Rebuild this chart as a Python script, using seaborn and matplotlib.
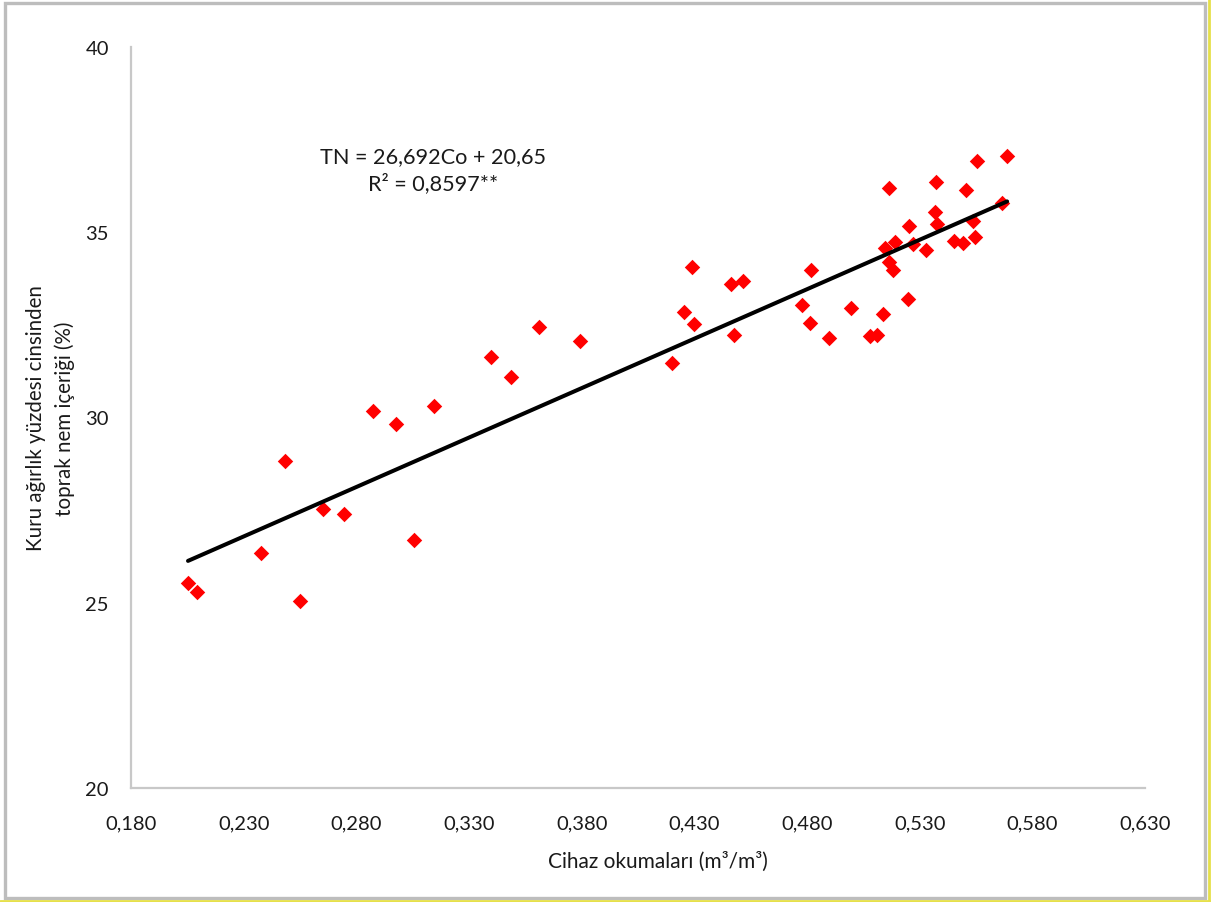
import matplotlib
matplotlib.use("Agg")
import matplotlib.pyplot as plt
from matplotlib.ticker import FuncFormatter, FixedLocator
from matplotlib.patches import Rectangle
from matplotlib.lines import Line2D
import seaborn as sns
import numpy as np

# ---- data ----
cihaz = [0.2053, 0.2093, 0.2377, 0.2483, 0.2550, 0.2652, 0.2745, 0.2874, 0.2976, 0.3056,
         0.3145, 0.3398, 0.3486, 0.3611, 0.3793, 0.4201, 0.4254, 0.4290, 0.4299, 0.4463,
         0.4516, 0.4476, 0.4778, 0.4818, 0.4813, 0.4898, 0.4995, 0.5080, 0.5111, 0.5137,
         0.5248, 0.5164, 0.5373, 0.5506, 0.5665, 0.5368, 0.5253, 0.5377, 0.5537, 0.5146,
         0.5191, 0.5270, 0.5328, 0.5452, 0.5492, 0.5546, 0.5164, 0.5182, 0.5554, 0.5688]
nem = [25.53, 25.29, 26.34, 28.83, 25.05, 27.53, 27.40, 30.18, 29.82, 26.69,
       30.31, 31.63, 31.09, 32.44, 32.06, 31.47, 32.85, 34.06, 32.52, 33.60,
       33.68, 32.23, 33.04, 33.98, 32.55, 32.15, 32.96, 32.20, 32.23, 32.79,
       33.20, 36.19, 36.36, 36.14, 35.79, 35.55, 35.17, 35.22, 35.30, 34.57,
       34.74, 34.68, 34.52, 34.76, 34.71, 34.87, 34.20, 33.98, 36.92, 37.06]

slope = 26.692
intercept = 20.65
eq_text = "TN = 26,692Co + 20,65\nR² = 0,8597**"

x_ticks = [0.180, 0.230, 0.280, 0.330, 0.380, 0.430, 0.480, 0.530, 0.580, 0.630]
y_ticks = [20, 25, 30, 35, 40]
x_label = "Cihaz okumaları (m³/m³)"
y_label = "Kuru ağırlık yüzdesi cinsinden\ntoprak nem içeriği (%)"

# ---- style ----
sns.set_theme(style="white")
plt.rcParams['font.family'] = ['Lato', 'DejaVu Sans']

W, H = 1211, 903
fig = plt.figure(figsize=(W / 100, H / 100), dpi=100)
ax = fig.add_axes([131 / W, 1 - 789 / H, (1145 - 131) / W, (789 - 48) / H])

sns.scatterplot(x=cihaz, y=nem, marker='D', color='#ff0000', s=62,
                linewidth=0, ax=ax, zorder=3)

line_x = np.array([min(cihaz), max(cihaz)])
sns.lineplot(x=line_x, y=slope * line_x + intercept, color='black',
             linewidth=2.9, ax=ax, zorder=4)

ax.set_xlim(x_ticks[0], x_ticks[-1])
ax.set_ylim(y_ticks[0], y_ticks[-1])
ax.xaxis.set_major_locator(FixedLocator(x_ticks))
ax.yaxis.set_major_locator(FixedLocator(y_ticks))
ax.xaxis.set_major_formatter(FuncFormatter(lambda v, p: f"{v:.3f}".replace('.', ',')))
ax.yaxis.set_major_formatter(FuncFormatter(lambda v, p: f"{v:.0f}"))
ax.tick_params(axis='x', length=0, pad=19, labelsize=14.5, labelcolor='#1a1a1a')
ax.tick_params(axis='y', length=0, pad=16, labelsize=14.5, labelcolor='#1a1a1a')

for s in ['top', 'right']:
    ax.spines[s].set_visible(False)
for s in ['left', 'bottom']:
    ax.spines[s].set_color('#c8c8c8')
    ax.spines[s].set_linewidth(1.6)

ax.set_xlabel(x_label, fontsize=15, color='#1a1a1a')
ax.set_ylabel(y_label, fontsize=14.8, color='#1a1a1a', linespacing=1.5)
ax.xaxis.set_label_coords((658 - 131) / 1014, -(852 - 789) / 741)
ax.yaxis.set_label_coords(-(131 - 75) / 1014, 0.5)

ax.text((433 - 131) / 1014, (789 - 171) / 741, eq_text, transform=ax.transAxes,
        ha='center', va='center', fontsize=15.6, color='#1a1a1a', linespacing=1.35)

# ---- outer frame ----
fig.add_artist(Rectangle((5 / W, 4 / H), (1205 - 5) / W, (902 - 4) / H - 3 / H,
                         transform=fig.transFigure, fill=False,
                         edgecolor='#bdbdbd', linewidth=2.4))
fig.add_artist(Line2D([1209 / W, 1209 / W], [0, 1], transform=fig.transFigure,
                      color='#e6e04a', linewidth=2))
fig.add_artist(Line2D([0, 1], [1.5 / H, 1.5 / H], transform=fig.transFigure,
                      color='#e6e04a', linewidth=2))

fig.savefig("out.png", dpi=100)
